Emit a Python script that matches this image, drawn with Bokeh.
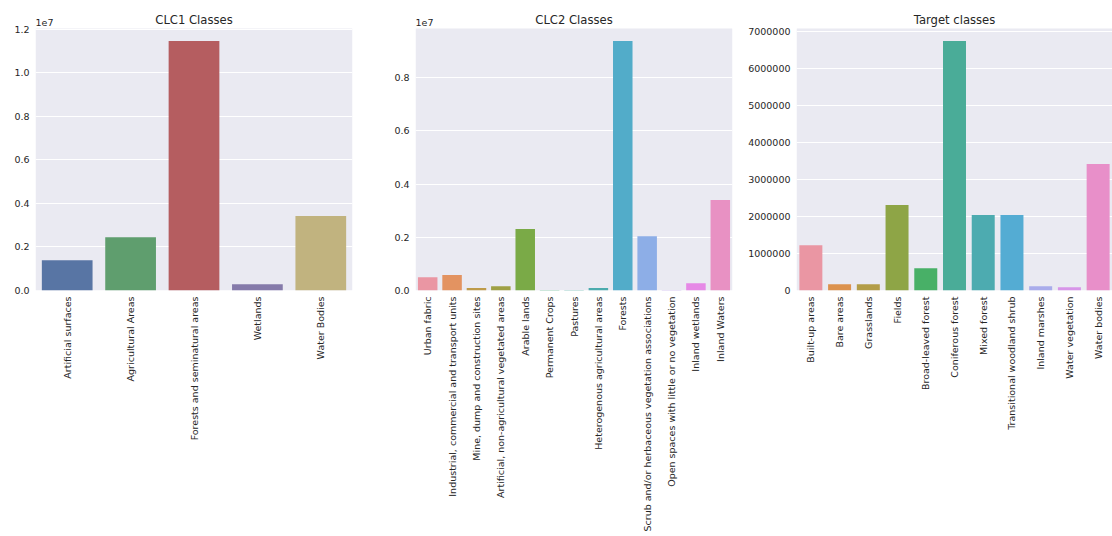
import colorsys
import math
from bokeh.plotting import figure
from bokeh.layouts import row
from bokeh.models import (FactorRange, Range1d, Label, FixedTicker, BoxAnnotation,
                          CustomJSTickFormatter, ColumnDataSource)
from bokeh.embed import file_html
from bokeh.resources import INLINE

# ---------------- data ----------------
clc1_classes = ["Artificial surfaces", "Agricultural Areas",
                "Forests and seminatural areas", "Wetlands", "Water Bodies"]
clc1_counts = [1390000, 2450000, 11460000, 290000, 3420000]

clc2_classes = ["Urban fabric", "Industrial, commercial and transport units",
                "Mine, dump and construction sites",
                "Artificial, non-agricultural vegetated areas", "Arable lands",
                "Permanent Crops", "Pastures", "Heterogenous agricultural areas",
                "Forests", "Scrub and/or herbaceous vegetation associations",
                "Open spaces with little or no vegetation", "Inland wetlands",
                "Inland Waters"]
clc2_counts = [500000, 580000, 90000, 160000, 2310000, 20000, 20000, 90000,
               9380000, 2040000, 15000, 275000, 3400000]

target_classes = ["Built-up areas", "Bare areas", "Grasslands", "Fields",
                  "Broad-leaved forest", "Coniferous forest", "Mixed forest",
                  "Transitional woodland shrub", "Inland marshes",
                  "Water vegetation", "Water bodies"]
target_counts = [1226000, 170000, 170000, 2310000, 604000, 6750000, 2040000,
                 2040000, 117000, 90000, 3420000]

clc_ticks = [0, 2000000, 4000000, 6000000, 8000000, 10000000, 12000000]
target_ticks = [0, 1000000, 2000000, 3000000, 4000000, 5000000, 6000000, 7000000]

# ---------------- colours (seaborn style) ----------------
M = [[3.2406, -1.5372, -0.4986], [-0.9689, 1.8758, 0.0415], [0.0557, -0.2040, 1.0570]]
REF_U, REF_V, KAPPA, EPS = 0.19784, 0.46834, 903.2963, 0.0088564


def _max_chroma(L, H):
    hrad = math.radians(H)
    sinH, cosH = math.sin(hrad), math.cos(hrad)
    sub1 = (L + 16) ** 3 / 1560896.0
    sub2 = sub1 if sub1 > EPS else L / KAPPA
    result = float("inf")
    for m1, m2, m3 in M:
        top = (0.99915 * m1 + 1.05122 * m2 + 1.14460 * m3) * sub2
        rb = 0.86330 * m3 - 0.17266 * m2
        lb = 0.12949 * m3 - 0.38848 * m1
        bottom = (rb * sinH + lb * cosH) * sub2
        for t in (0.0, 1.0):
            C = L * (top - 1.05122 * t) / (bottom + 0.17266 * sinH * t)
            if 0 < C < result:
                result = C
    return result


def _husl_to_rgb(H, S, L):
    C = _max_chroma(L, H) / 100.0 * S
    hr = math.radians(H)
    U, V = math.cos(hr) * C, math.sin(hr) * C
    Y = ((L + 16) / 116.0) ** 3 if L > 8 else L / KAPPA
    vu = U / (13 * L) + REF_U
    vv = V / (13 * L) + REF_V
    X = -(9 * Y * vu) / ((vu - 4) * vv - vu * vv)
    Z = (9 * Y - 15 * vv * Y - vv * X) / (3 * vv)
    out = []
    for m1, m2, m3 in M:
        c = m1 * X + m2 * Y + m3 * Z
        c = 12.92 * c if c <= 0.0031308 else 1.055 * c ** (1 / 2.4) - 0.055
        out.append(min(max(c, 0.0), 1.0))
    return tuple(out)


def _desat(rgb, prop=0.75):
    h, l, s = colorsys.rgb_to_hls(*rgb)
    return colorsys.hls_to_rgb(h, l, s * prop)


def _hex(rgb):
    return "#%02x%02x%02x" % tuple(int(round(c * 255)) for c in rgb)


def husl_colors(n, h=0.01, s=0.9, l=0.7):
    out = []
    for i in range(n):
        hue = ((i / n) + h) % 1 * 359
        out.append(_hex(_desat(_husl_to_rgb(hue, s * 99, l * 99))))
    return out


deep = ["#4C72B0", "#55A868", "#C44E52", "#8172B2", "#CCB974"]
clc1_colors = [_hex(_desat(tuple(int(c[i:i + 2], 16) / 255 for i in (1, 3, 5)))) for c in deep]
clc2_colors = husl_colors(len(clc2_classes))
target_colors = husl_colors(len(target_classes))

TXT = "#262626"
FONT = "DejaVu Sans"
TICK_SIZE = "9.5px"
CANVAS_TOP = 2      # top of the (extended) frame
AXES_TOP = 28       # top of the grey axes area
AXES_BOTTOM = 290


def panel(classes, counts, colors, title, width, left, right, ticks, code, offset_text):
    ymax = max(counts) * 1.05
    yext = ymax * (AXES_BOTTOM - CANVAS_TOP) / (AXES_BOTTOM - AXES_TOP)
    p = figure(x_range=FactorRange(*classes), y_range=Range1d(0, yext),
               width=width, height=536, output_backend="svg", toolbar_location=None,
               min_border_left=left, min_border_right=right, min_border_top=CANVAS_TOP,
               min_border_bottom=536 - AXES_BOTTOM,
               background_fill_color="white",
               border_fill_color="white", outline_line_color=None)
    p.x_range.range_padding = 0
    # grey axes background, exactly covering the value range 0..ymax
    p.add_layout(BoxAnnotation(bottom=0, top=ymax, fill_color="#EAEAF2", fill_alpha=1.0,
                               line_color=None, level="image"))
    src = ColumnDataSource(dict(cls=classes, cnt=counts, color=colors))
    p.vbar(x="cls", top="cnt", width=0.8, fill_color="color", line_color=None, source=src)
    p.xgrid.grid_line_color = None
    p.ygrid.grid_line_color = "white"
    p.ygrid.grid_line_width = 1
    p.yaxis.ticker = FixedTicker(ticks=[t for t in ticks if t <= ymax])
    p.yaxis.formatter = CustomJSTickFormatter(code=code)
    for ax in (p.xaxis, p.yaxis):
        ax.axis_line_color = None
        ax.major_tick_line_color = None
        ax.minor_tick_line_color = None
        ax.major_tick_out = 0
        ax.major_tick_in = 0
        ax.minor_tick_out = 0
        ax.minor_tick_in = 0
        ax.major_label_text_font = FONT
        ax.major_label_text_font_size = TICK_SIZE
        ax.major_label_text_color = TXT
        ax.major_label_standoff = 6
    p.xaxis.major_label_orientation = math.pi / 2
    # title (centered over the axes)
    p.add_layout(Label(x=len(classes) / 2, y=ymax, text=title, text_align="center",
                       text_baseline="alphabetic", y_offset=9, text_font=FONT,
                       text_font_size="11.6px", text_color=TXT))
    if offset_text:
        p.add_layout(Label(x=0, y=ymax, text=offset_text, text_align="left",
                           text_baseline="alphabetic", y_offset=6, text_font=FONT,
                           text_font_size=TICK_SIZE, text_color=TXT))
    return p


sci = "return (tick / 1e7).toFixed(1);"
p1 = panel(clc1_classes, clc1_counts, clc1_colors, "CLC1 Classes", 380, 35, 28,
           clc_ticks, sci, "1e7")
p2 = panel(clc2_classes, clc2_counts, clc2_colors, "CLC2 Classes", 360, 35, 8,
           clc_ticks, sci, "1e7")
p3 = panel(target_classes, target_counts, target_colors, "Target classes", 372, 56, 0,
           target_ticks, "return tick.toFixed(0);", None)

layout = row(p1, p2, p3, spacing=0)
open("out.html", "w").write(file_html(layout, INLINE))
